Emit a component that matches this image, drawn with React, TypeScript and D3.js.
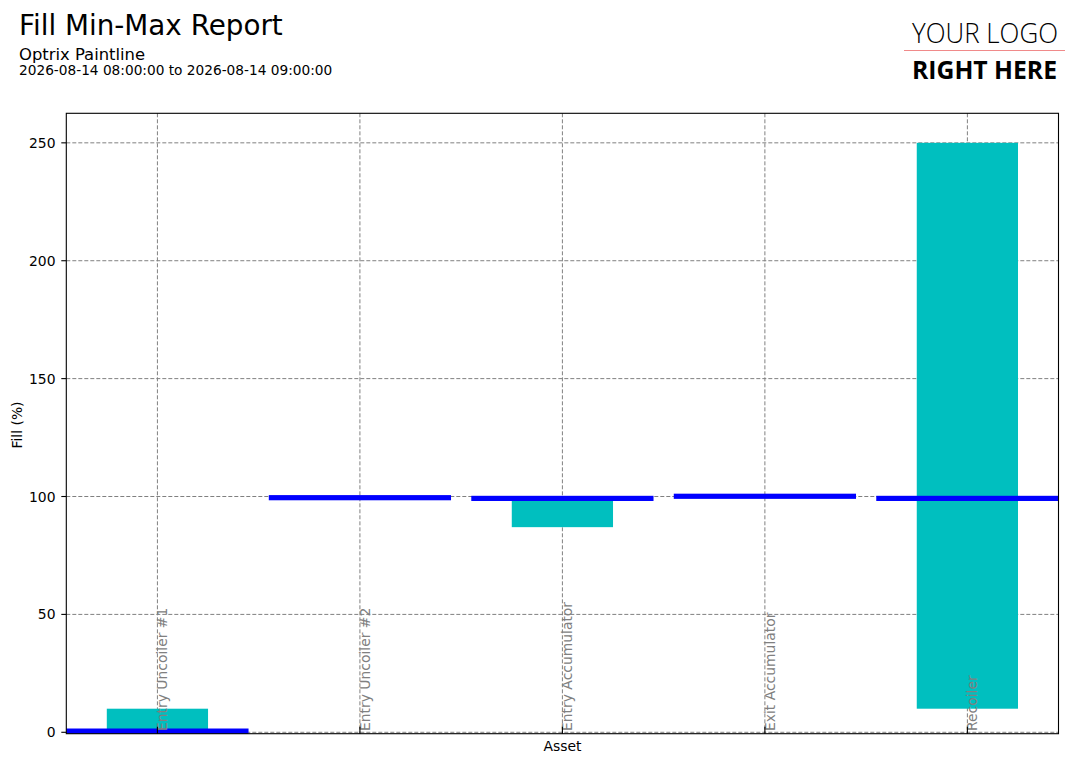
import * as d3 from 'd3';
import { useEffect, useRef } from 'react';

// Chart data
const assets = ['Entry Uncoiler #1', 'Entry Uncoiler #2', 'Entry Accumulator', 'Exit Accumulator', 'Recoiler'];
const fillMin = [0, 99.5, 87, 100.1, 10];
const fillMax = [10, 99.5, 99, 100.1, 250];
const fillCurrent = [0.5, 99.5, 99.2, 100.1, 99.2];
const yTicks = [0, 50, 100, 150, 200, 250];

const WIDTH = 1081;
const HEIGHT = 764;
const FONT = '"DejaVu Sans", sans-serif';

const App: React.FC = () => {
    const svgRef = useRef<SVGSVGElement>(null);

    useEffect(() => {
        const svg = d3.select(svgRef.current);
        svg.selectAll('*').remove();

        // Plot area
        const plot = { left: 66.3, right: 1058.5, top: 113.3, bottom: 733.7 };
        const markHalf = 1.1; // half thickness of the current-value marker, in data units

        const lo = d3.min(fillCurrent, (d) => d - markHalf) || 0;
        const hiData = d3.max(fillMax) || 0;
        const hi = hiData + 0.05 * (hiData - lo);

        const idx = assets.map((_, i) => i);

        // Scales
        const xScale = d3.scaleLinear().domain([-0.45, assets.length - 1 + 0.45]).range([plot.left, plot.right]);
        const yScale = d3.scaleLinear().domain([lo, hi]).range([plot.bottom, plot.top]);

        // Header
        svg.append('text').attr('x', 19).attr('y', 35).attr('font-size', 27.8).attr('font-family', FONT).text('Fill Min-Max Report');
        svg.append('text').attr('x', 19).attr('y', 60).attr('font-size', 16.4).attr('font-family', FONT).text('Optrix Paintline');
        svg.append('text').attr('x', 19).attr('y', 75).attr('font-size', 13.7).attr('font-family', FONT)
            .text('2026-08-14 08:00:00 to 2026-08-14 09:00:00');

        // Logo
        svg.append('text').attr('x', 912).attr('y', 43).attr('font-size', 28).attr('font-family', '"Open Sans", sans-serif')
            .attr('font-weight', 300).attr('textLength', 146).attr('lengthAdjust', 'spacingAndGlyphs').text('YOUR LOGO');
        svg.append('line').attr('x1', 904).attr('x2', 1065).attr('y1', 50.5).attr('y2', 50.5)
            .attr('stroke', '#f08a8a').attr('stroke-width', 1);
        svg.append('text').attr('x', 912).attr('y', 79).attr('font-size', 25).attr('font-family', '"Open Sans", sans-serif')
            .attr('font-weight', 700).attr('textLength', 145).attr('lengthAdjust', 'spacingAndGlyphs').text('RIGHT HERE');

        const g = svg.append('g');

        // Grid
        g.selectAll('.hgrid').data(yTicks).enter().append('line')
            .attr('x1', plot.left).attr('x2', plot.right)
            .attr('y1', (d) => yScale(d)).attr('y2', (d) => yScale(d))
            .attr('stroke', '#808080').attr('stroke-width', 1).attr('stroke-dasharray', '4,2');
        g.selectAll('.vgrid').data(idx).enter().append('line')
            .attr('x1', (d) => xScale(d)).attr('x2', (d) => xScale(d))
            .attr('y1', plot.top).attr('y2', plot.bottom)
            .attr('stroke', '#808080').attr('stroke-width', 1).attr('stroke-dasharray', '4,2');

        // Min-max bars
        g.selectAll('.range').data(idx).enter().append('rect')
            .attr('x', (d) => xScale(d - 0.25))
            .attr('width', xScale(0.5) - xScale(0))
            .attr('y', (d) => yScale(fillMax[d]))
            .attr('height', (d) => yScale(fillMin[d]) - yScale(fillMax[d]))
            .attr('fill', '#00bfbf');

        // Current value markers
        g.selectAll('.current').data(idx).enter().append('rect')
            .attr('x', (d) => xScale(d - 0.45))
            .attr('width', xScale(0.9) - xScale(0))
            .attr('y', (d) => yScale(fillCurrent[d] + markHalf))
            .attr('height', (d) => yScale(fillCurrent[d] - markHalf) - yScale(fillCurrent[d] + markHalf))
            .attr('fill', '#0000ff');

        // Category labels inside the plot
        g.selectAll('.cat').data(idx).enter().append('text')
            .attr('transform', (d) => `translate(${xScale(d) + 10},731) rotate(-90)`)
            .attr('font-size', 13.9).attr('font-family', FONT).attr('fill', '#808080')
            .text((d) => assets[d]);

        // X ticks (inward)
        g.selectAll('.xtick').data(idx).enter().append('line')
            .attr('x1', (d) => xScale(d)).attr('x2', (d) => xScale(d))
            .attr('y1', plot.bottom).attr('y2', plot.bottom - 7)
            .attr('stroke', '#000').attr('stroke-width', 1.1);

        // Y ticks and labels
        g.selectAll('.ytick').data(yTicks).enter().append('line')
            .attr('x1', plot.left - 5).attr('x2', plot.left)
            .attr('y1', (d) => yScale(d)).attr('y2', (d) => yScale(d))
            .attr('stroke', '#000').attr('stroke-width', 1.1);
        g.selectAll('.ylabel').data(yTicks).enter().append('text')
            .attr('x', 55.5).attr('y', (d) => yScale(d)).attr('dy', '0.36em')
            .attr('text-anchor', 'end').attr('font-size', 13.9).attr('font-family', FONT)
            .text((d) => d3.format('d')(d));

        // Frame
        g.append('rect')
            .attr('x', plot.left).attr('y', plot.top)
            .attr('width', plot.right - plot.left).attr('height', plot.bottom - plot.top)
            .attr('fill', 'none').attr('stroke', '#000').attr('stroke-width', 1.1);

        // Axis titles
        svg.append('text').attr('x', xScale(2)).attr('y', 751).attr('text-anchor', 'middle')
            .attr('font-size', 13.9).attr('font-family', FONT).text('Asset');
        svg.append('text').attr('transform', 'translate(21.5,425) rotate(-90)').attr('text-anchor', 'middle')
            .attr('font-size', 13.9).attr('font-family', FONT).text('Fill (%)');
    }, []);

    return (
        <svg ref={svgRef} width={WIDTH} height={HEIGHT}
            style={{ position: 'absolute', left: 0, top: 0, background: '#fff' }}></svg>
    );
};

export default App;
